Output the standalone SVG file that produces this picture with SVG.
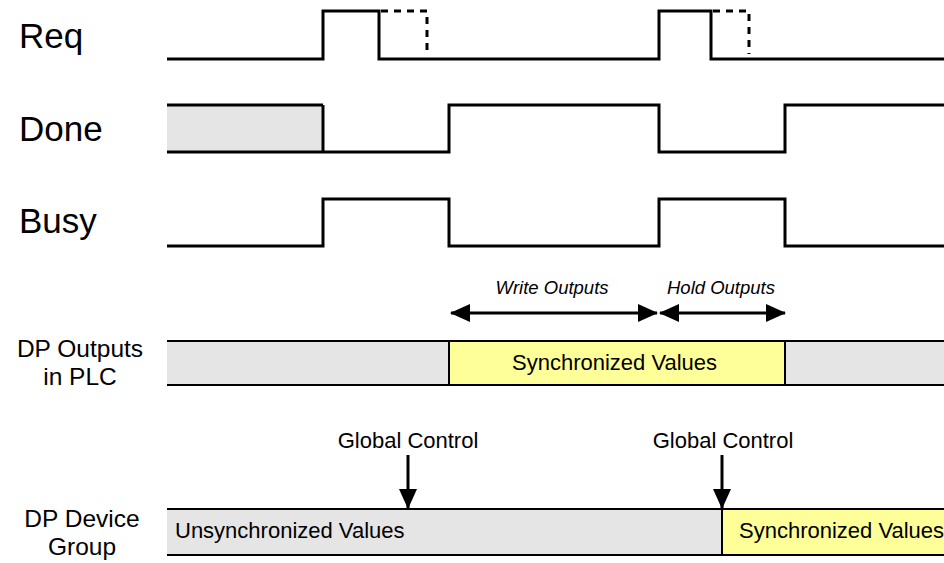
<svg xmlns="http://www.w3.org/2000/svg" width="944" height="563" viewBox="0 0 944 563">
<style>
text{font-family:"Liberation Sans",Arial,sans-serif;fill:#000}
.sig{fill:none;stroke:#000;stroke-width:3;stroke-linejoin:miter}
.dash{fill:none;stroke:#000;stroke-width:3;stroke-dasharray:7,6}
.bar{stroke:none}
.edge{stroke:#000;stroke-width:2;fill:none}
.gray{fill:#E5E5E5}
.yel{fill:#FFFF99}
.big{font-size:35px}
.lbl{font-size:24.5px;text-anchor:middle}
.val{font-size:22px}
.it{font-size:18.5px;font-style:italic;text-anchor:middle}
.arr{stroke:#000;stroke-width:3;fill:none}
</style>
<defs>
<marker id="ah" viewBox="0 0 20 18" refX="19" refY="9" markerWidth="20" markerHeight="18" markerUnits="userSpaceOnUse" orient="auto-start-reverse">
<path d="M0,0 L20,9 L0,18 Z" fill="#000"/>
</marker>
</defs>
<g id="labels">
<text class="big" x="19" y="48">Req</text>
<text class="big" x="19" y="141">Done</text>
<text class="big" x="19" y="233">Busy</text>
<text class="lbl" x="80" y="357">DP Outputs</text>
<text class="lbl" x="80" y="385">in PLC</text>
<text class="lbl" x="82" y="527">DP Device</text>
<text class="lbl" x="82" y="555">Group</text>
</g>
<g id="req">
<polyline class="sig" points="167,59 323,59 323,11 379,11 379,59 659,59 659,11 711,11 711,59 944,59"/>
<polyline class="dash" points="381,11 427,11 427,54"/>
<polyline class="dash" points="713,11 749,11 749,54"/>
</g>
<g id="done">
<rect class="bar gray" x="167" y="105" width="156" height="47"/>
<line class="sig" x1="167" y1="105" x2="323" y2="105"/>
<polyline class="sig" points="167,152 449,152 449,105 659,105 659,152 785,152 785,105 944,105"/>
<line class="sig" x1="323" y1="105" x2="323" y2="152"/>
</g>
<g id="busy">
<polyline class="sig" points="167,246 323,246 323,199 449,199 449,246 659,246 659,199 785,199 785,246 944,246"/>
</g>
<g id="dp-outputs">
<rect class="bar gray" x="167" y="341" width="282" height="44"/>
<rect class="bar yel" x="449" y="341" width="336" height="44"/>
<rect class="bar gray" x="785" y="341" width="159" height="44"/>
<line class="edge" x1="167" y1="341" x2="944" y2="341"/>
<line class="edge" x1="167" y1="385" x2="944" y2="385"/>
<line class="edge" x1="449" y1="341" x2="449" y2="385"/>
<line class="edge" x1="785" y1="341" x2="785" y2="385"/>
<text class="val" x="512" y="370">Synchronized Values</text>
</g>
<g id="dp-device">
<rect class="bar gray" x="167" y="509" width="555" height="46"/>
<rect class="bar yel" x="722" y="509" width="222" height="46"/>
<line class="edge" x1="167" y1="509" x2="944" y2="509"/>
<line class="edge" x1="167" y1="555" x2="944" y2="555"/>
<line class="edge" x1="722" y1="509" x2="722" y2="555"/>
<text class="val" x="175" y="538">Unsynchronized Values</text>
<text class="val" x="739" y="538">Synchronized Values</text>
</g>
<g id="annotations">
<text class="it" x="552" y="294">Write Outputs</text>
<text class="it" x="721" y="294">Hold Outputs</text>
<text class="val" x="408" y="448" text-anchor="middle">Global Control</text>
<text class="val" x="723" y="448" text-anchor="middle">Global Control</text>
</g>
<g id="connectors">
<line class="arr" x1="451" y1="313" x2="657" y2="313" marker-start="url(#ah)" marker-end="url(#ah)"/>
<line class="arr" x1="660" y1="313" x2="785" y2="313" marker-start="url(#ah)" marker-end="url(#ah)"/>
<line class="arr" x1="408" y1="455" x2="408" y2="508" marker-end="url(#ah)"/>
<line class="arr" x1="722" y1="455" x2="722" y2="508" marker-end="url(#ah)"/>
</g>
</svg>
